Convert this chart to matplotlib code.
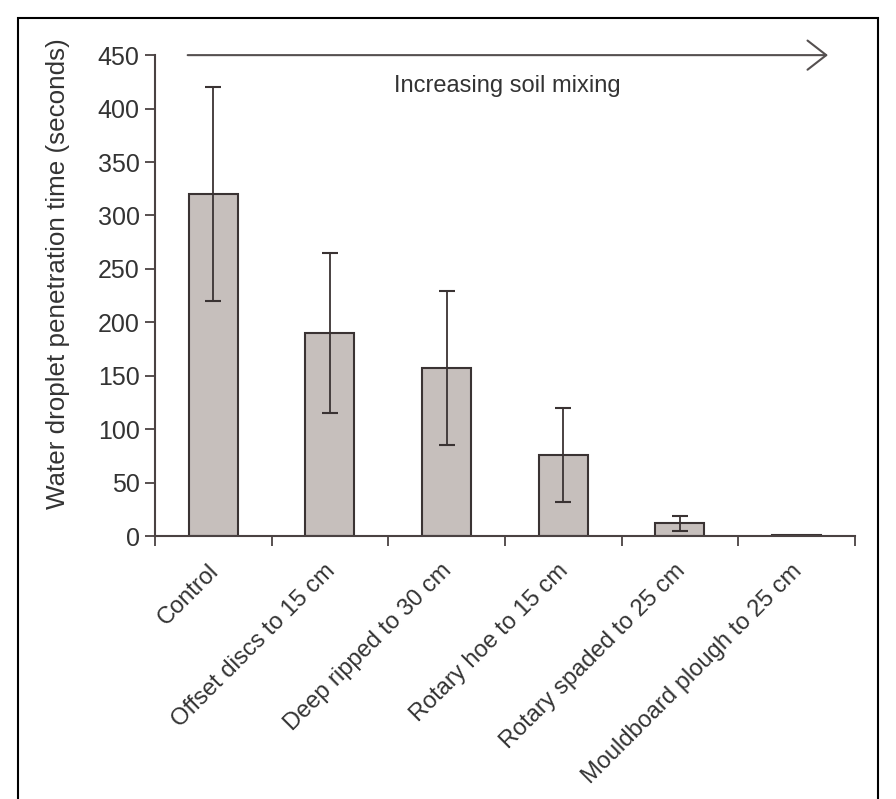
import matplotlib
matplotlib.use("Agg")
import matplotlib.pyplot as plt
from matplotlib.patches import Rectangle

categories = ["Control", "Offset discs to 15 cm", "Deep ripped to 30 cm",
              "Rotary hoe to 15 cm", "Rotary spaded to 25 cm", "Mouldboard plough to 25 cm"]
values = [320, 190, 157, 76, 12, 1.5]
errors = [100, 75, 72, 44, 7, 0]
yticks = [0, 50, 100, 150, 200, 250, 300, 350, 400, 450]

plt.rcParams['font.family'] = ['Liberation Sans', 'DejaVu Sans']

fig = plt.figure(figsize=(8.96, 7.99), dpi=100)
ax = fig.add_axes([0.173, 0.329, 0.781, 0.602])

x = list(range(len(categories)))
ax.bar(x, values, width=0.42, color="#c6bfbc", edgecolor="#3a3333", linewidth=1.5, zorder=2)
ax.errorbar(x[:-1], values[:-1], yerr=errors[:-1], fmt="none",
            ecolor="#3a3333", elinewidth=1.3, capsize=5.5, capthick=1.5, zorder=3)

ax.set_xlim(-0.5, len(categories) - 0.5)
ax.set_ylim(0, 450)
ax.set_yticks(yticks)
ax.set_yticklabels([str(t) for t in yticks], fontsize=18, color="#333333")
ax.set_xticks([i - 0.5 for i in range(len(categories) + 1)])
ax.set_xticklabels([])
for i, c in enumerate(categories):
    ax.text(i - 0.05, -22, c, rotation=45, ha="right", va="top", fontsize=17,
            color="#333333", rotation_mode="anchor")
ax.tick_params(axis="both", direction="out", length=7, width=1.3, colors="#4a4242", pad=4)
ax.tick_params(axis="y", labelcolor="#333333")
for s in ["top", "right"]:
    ax.spines[s].set_visible(False)
for s in ["left", "bottom"]:
    ax.spines[s].set_color("#4a4242")
    ax.spines[s].set_linewidth(1.5)
ax.set_ylabel("Water droplet penetration time (seconds)", fontsize=18.7,
              color="#333333", va="center")
ax.yaxis.set_label_coords(-0.138, 0.545)

ax.annotate("", xy=(5.27, 450), xytext=(-0.22, 450),
            arrowprops=dict(arrowstyle="->,head_length=0.45,head_width=0.35", color="#555050",
                            lw=1.5, mutation_scale=30, shrinkA=0, shrinkB=0),
            annotation_clip=False)
ax.text(2.52, 421, "Increasing soil mixing", ha="center", va="center",
        fontsize=17, color="#333333")

fig.patches.append(Rectangle((0.02, -0.05), 0.96, 1.028, transform=fig.transFigure,
                             fill=False, edgecolor="black", linewidth=1.5))

fig.savefig("out.png", dpi=100)
